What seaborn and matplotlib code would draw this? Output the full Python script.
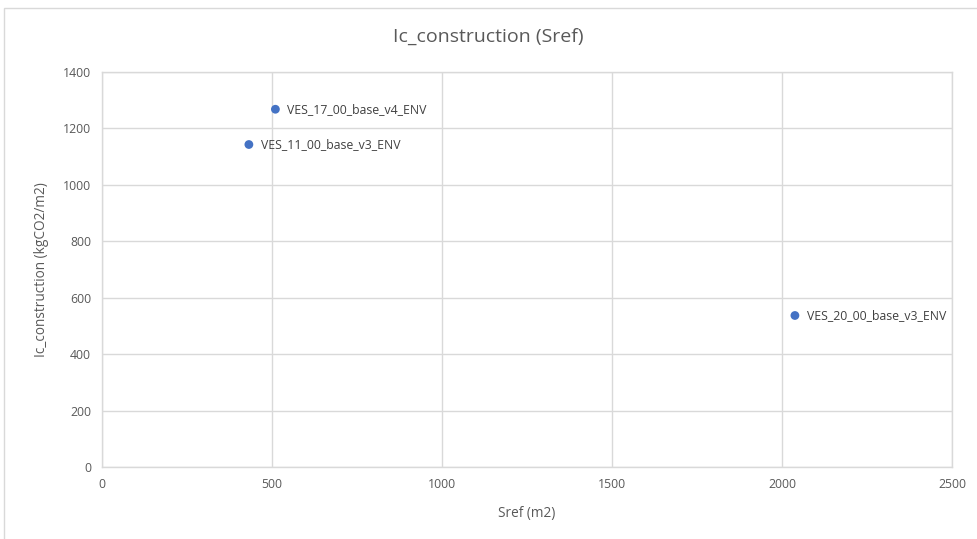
import matplotlib
matplotlib.use("Agg")
import matplotlib.pyplot as plt
import seaborn as sns
import pandas as pd
from matplotlib.patches import Rectangle

# données
noms = ['VES_17_00_base_v4_ENV', 'VES_11_00_base_v3_ENV', 'VES_20_00_base_v3_ENV']
sref = [510, 432, 2038]
ic_construction = [1268, 1143, 537]

df = pd.DataFrame({'Sref': sref, 'Ic': ic_construction, 'nom': noms})

sns.set_style("white")
plt.rcParams['font.family'] = ['Open Sans', 'DejaVu Sans']
gris_texte = '#595959'
gris_grille = '#d9d9d9'

fig = plt.figure(figsize=(9.78, 5.39), dpi=100)
ax = fig.add_axes([102 / 978, 1 - 467 / 539, 850 / 978, 395 / 539])

sns.scatterplot(data=df, x='Sref', y='Ic', ax=ax, color='#4472C4', s=40,
                edgecolor='none', zorder=3)

for _, row in df.iterrows():
    ax.annotate(row['nom'], (row['Sref'], row['Ic']), xytext=(8.5, 0),
                textcoords='offset points', va='center', ha='left',
                fontsize=8.8, color='#404040')

ax.set_xlim(0, 2500)
ax.set_ylim(0, 1400)
ax.set_xticks(range(0, 2501, 500))
ax.set_yticks(range(0, 1401, 200))
ax.grid(True, color=gris_grille, linewidth=1)
ax.set_axisbelow(True)
for sp in ax.spines.values():
    sp.set_color(gris_grille)
    sp.set_linewidth(1)
ax.tick_params(axis='both', length=0, labelsize=8.8, labelcolor=gris_texte, pad=8)

ax.set_xlabel('Sref (m2)', fontsize=9.8, color=gris_texte, labelpad=11)
ax.set_ylabel('Ic_construction (kgCO2/m2)', fontsize=9.8, color=gris_texte, labelpad=10)
fig.text(0.499, 1 - 37 / 539, 'Ic_construction (Sref)', ha='center', va='center',
         fontsize=14, color=gris_texte)

# bordure de la zone graphique
fig.patches.append(Rectangle((4 / 978, -0.05), 1.2, 1 - 8 / 539 + 0.05,
                             transform=fig.transFigure, fill=False,
                             edgecolor=gris_grille, linewidth=1))

fig.savefig('out.png', dpi=100, facecolor='white')
